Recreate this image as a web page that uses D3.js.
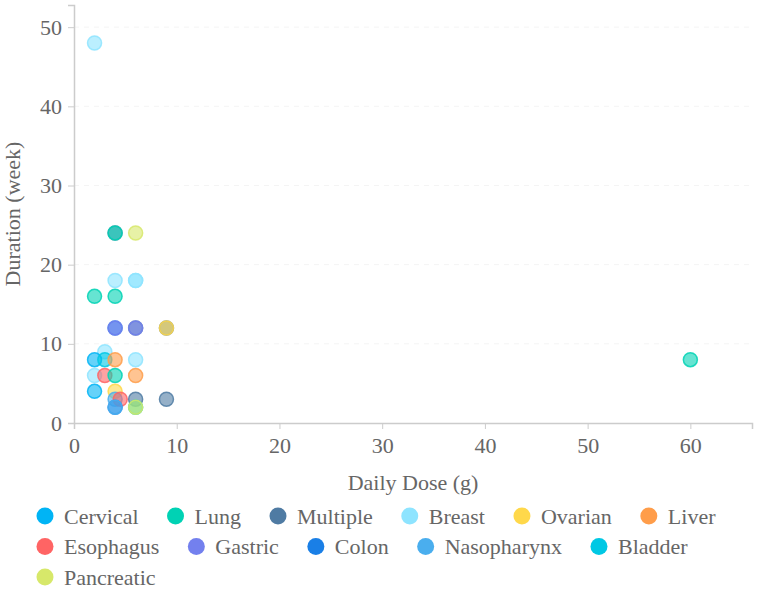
<!DOCTYPE html>
<html>
<head>
<meta charset="utf-8">
<script src="https://cdn.jsdelivr.net/npm/d3@7"></script>
<style>
  body { margin: 0; background: #fff; }
  text { font-family: "Liberation Serif", "Times New Roman", serif; fill: #666; }
</style>
</head>
<body>
<svg width="758" height="591"></svg>
<script>
  const categories = ["Cervical", "Lung", "Multiple", "Breast", "Ovarian", "Liver",
                      "Esophagus", "Gastric", "Colon", "Nasopharynx", "Bladder", "Pancreatic"];
  const colors = ["#00b4f5", "#00d2b4", "#4f7ba3", "#8ee4ff", "#ffd84a", "#ff9d4a",
                  "#ff6464", "#7380ee", "#1a7fe6", "#4aaeee", "#00c8e4", "#d7e86a"];

  // [category, daily dose (g), duration (week)]
  const points = [
    ["Breast", 2, 48],
    ["Multiple", 4, 24], ["Lung", 4, 24],
    ["Pancreatic", 6, 24],
    ["Breast", 4, 18], ["Breast", 6, 18], ["Breast", 6, 18],
    ["Lung", 2, 16], ["Lung", 4, 16],
    ["Colon", 4, 12], ["Gastric", 4, 12], ["Multiple", 6, 12], ["Gastric", 6, 12],
    ["Multiple", 9, 12], ["Ovarian", 9, 12],
    ["Breast", 3, 9],
    ["Cervical", 2, 8], ["Bladder", 3, 8], ["Liver", 4, 8], ["Breast", 6, 8],
    ["Breast", 2, 6], ["Esophagus", 3, 6], ["Lung", 4, 6], ["Liver", 6, 6],
    ["Cervical", 2, 4], ["Ovarian", 4, 4],
    ["Nasopharynx", 4, 3], ["Esophagus", 4.5, 3], ["Colon", 4, 2], ["Nasopharynx", 4, 2],
    ["Multiple", 6, 3], ["Lung", 6, 2], ["Pancreatic", 6, 2],
    ["Multiple", 9, 3],
    ["Lung", 60, 8]
  ];

  const xTicks = [0, 10, 20, 30, 40, 50, 60];
  const yTicks = [0, 10, 20, 30, 40, 50];

  const svg = d3.select("svg"),
        margin = {top: 5, right: 6, bottom: 168, left: 74},
        width = +svg.attr("width"),
        height = +svg.attr("height");

  const x = d3.scaleLinear().domain([0, 66]).range([margin.left, width - margin.right]);
  const y = d3.scaleLinear().domain([0, 52.8]).range([height - margin.bottom, margin.top]);
  const color = d3.scaleOrdinal().domain(categories).range(colors);

  // grid (very faint)
  svg.append("g")
    .selectAll("line")
    .data(yTicks.slice(1))
    .enter().append("line")
    .attr("x1", x(0)).attr("x2", x(66))
    .attr("y1", d => y(d)).attr("y2", d => y(d))
    .attr("stroke", "#f4f4f4")
    .attr("stroke-dasharray", "5,5");

  const xAxis = svg.append("g")
    .attr("transform", `translate(0,${y(0)})`)
    .call(d3.axisBottom(x).tickValues(xTicks).tickSize(6).tickPadding(8));
  xAxis.select(".domain").attr("stroke", "#ccc").attr("stroke-width", 1.5);
  xAxis.selectAll(".tick line").attr("stroke", "#ccc");
  xAxis.selectAll("text").style("font-size", "22px").attr("fill", "#666");

  const yAxis = svg.append("g")
    .attr("transform", `translate(${x(0)},0)`)
    .call(d3.axisLeft(y).tickValues(yTicks).tickSize(6).tickPadding(6));
  yAxis.select(".domain").attr("stroke", "#ccc").attr("stroke-width", 1.5);
  yAxis.selectAll(".tick line").attr("stroke", "#ccc");
  yAxis.selectAll("text").style("font-size", "22px").attr("fill", "#666");

  svg.append("text")
    .attr("x", (x(0) + x(66)) / 2)
    .attr("y", 490)
    .attr("text-anchor", "middle")
    .style("font-size", "22px")
    .text("Daily Dose (g)");

  svg.append("text")
    .attr("transform", `translate(20,${(y(0) + y(52.8)) / 2}) rotate(-90)`)
    .attr("text-anchor", "middle")
    .style("font-size", "22px")
    .text("Duration (week)");

  svg.append("g")
    .selectAll("circle")
    .data(points)
    .enter().append("circle")
    .attr("cx", d => x(d[1]))
    .attr("cy", d => y(d[2]))
    .attr("r", 7)
    .attr("fill", d => color(d[0]))
    .attr("fill-opacity", 0.6)
    .attr("stroke", d => color(d[0]))
    .attr("stroke-opacity", 0.85)
    .attr("stroke-width", 1.5);

  // legend, wrapped into rows
  const legend = svg.append("g");
  let lx = 45, row = 0;
  categories.forEach(c => {
    const g = legend.append("g");
    g.append("circle").attr("r", 8.5).attr("fill", color(c));
    const t = g.append("text").attr("x", 19).attr("dy", "0.35em")
      .style("font-size", "22px").text(c);
    const w = 19 + t.node().getComputedTextLength();
    if (lx + w > width - 20) { lx = 45; row++; }
    g.attr("transform", `translate(${lx},${516 + row * 30.5})`);
    lx += w + 37;
  });
</script>
</body>
</html>
